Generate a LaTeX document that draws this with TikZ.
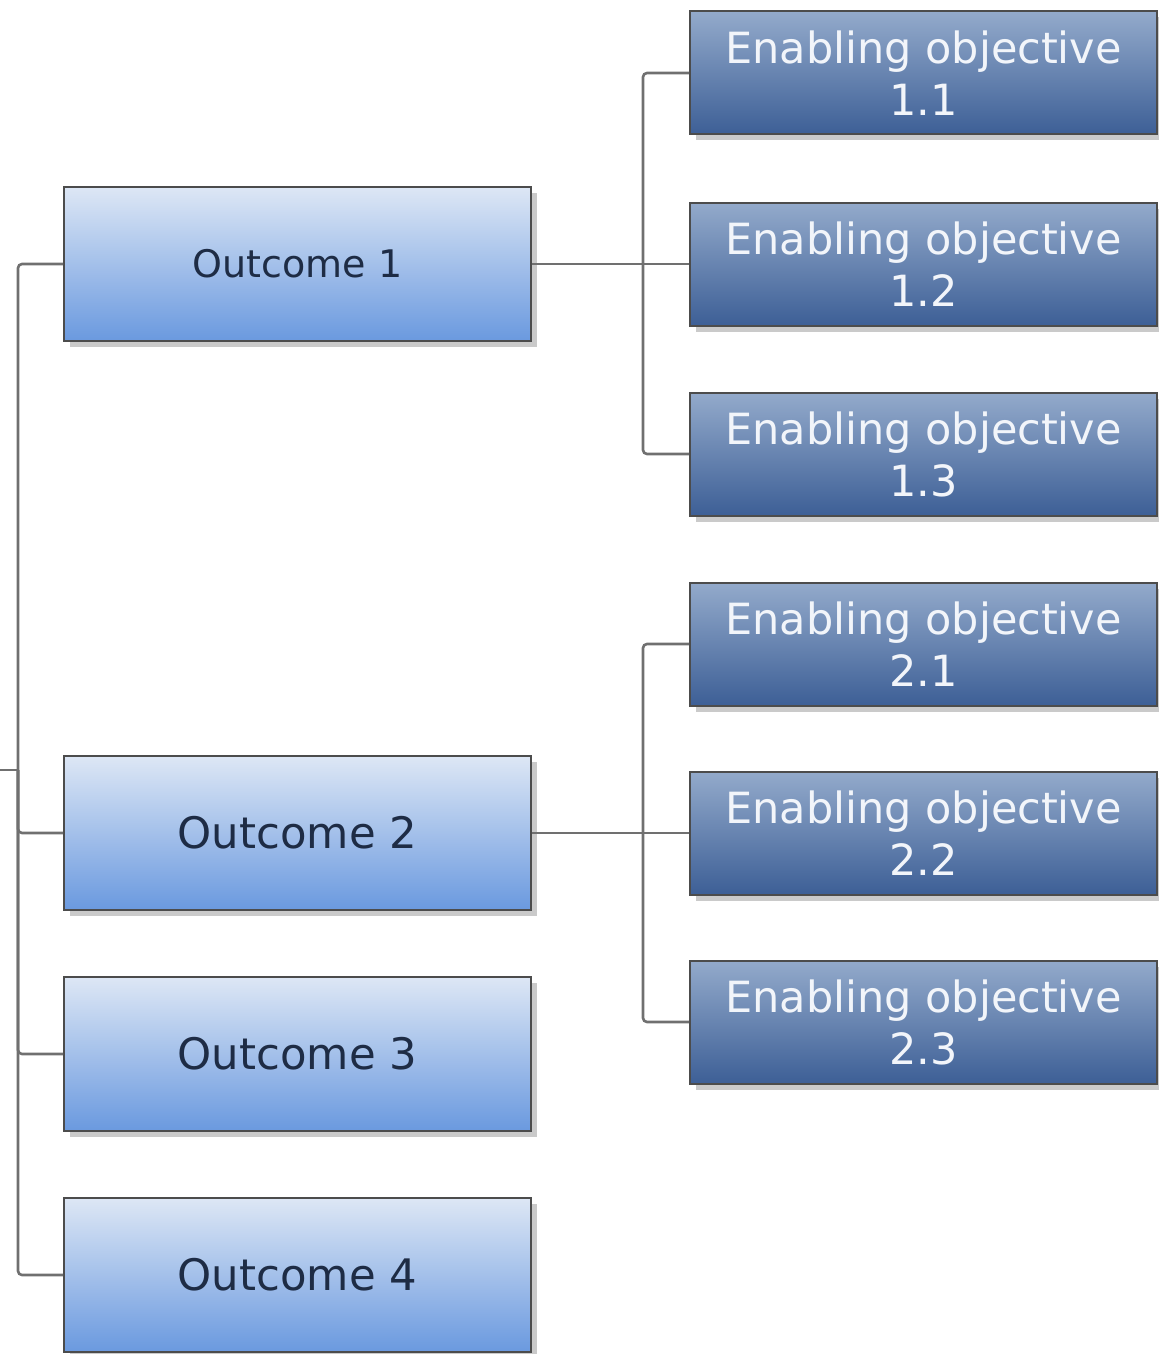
\documentclass[tikz,border=0pt]{standalone}
\usepackage{fontspec}
\setmainfont{DejaVu Sans}
\usetikzlibrary{shadows}
\definecolor{otop}{HTML}{DDE7F5}
\definecolor{obot}{HTML}{6A99DF}
\definecolor{etop}{HTML}{93AACB}
\definecolor{ebot}{HTML}{3D5F96}
\definecolor{otext}{HTML}{1E2C45}
\definecolor{etext}{HTML}{F2F5FA}
\definecolor{lineg}{HTML}{707070}
\begin{document}
\begin{tikzpicture}[x=0.5pt,y=-0.5pt,
  box/.style={draw=black!70, line width=1pt, minimum width=233.5pt, inner sep=0pt,
    drop shadow={shadow xshift=3pt, shadow yshift=-3pt, opacity=0.35, fill=black!60}},
  outbox/.style={box, minimum height=77pt, top color=otop, bottom color=obot,
    text=otext, font=\fontsize{21.7}{24}\selectfont},
  enbox/.style={box, minimum height=61.5pt, top color=etop, bottom color=ebot,
    text=etext, align=center, font=\fontsize{21.5}{26}\selectfont},
  conn/.style={draw=lineg, line width=1.3pt, rounded corners=2pt}
]
\useasboundingbox (0,0) rectangle (1159,1354);
\node[outbox, font=\fontsize{19}{22}\selectfont] (o1) at (297.5,264) {Outcome 1};
\node[outbox] (o2) at (297.5,833) {Outcome 2};
\node[outbox] (o3) at (297.5,1054) {Outcome 3};
\node[outbox] (o4) at (297.5,1275) {Outcome 4};
\node[enbox] (e11) at (923.5,73) {Enabling objective\\1.1};
\node[enbox] (e12) at (923.5,264) {Enabling objective\\1.2};
\node[enbox] (e13) at (923.5,454) {Enabling objective\\1.3};
\node[enbox] (e21) at (923.5,644) {Enabling objective\\2.1};
\node[enbox] (e22) at (923.5,833) {Enabling objective\\2.2};
\node[enbox] (e23) at (923.5,1022) {Enabling objective\\2.3};
\coordinate (root) at (0,770);
\coordinate (tl) at (18,770);
\draw[conn] (root) -- (tl);
\draw[conn] (o1.west) -| (tl) |- (o4.west);
\draw[conn] (tl) |- (o2.west);
\draw[conn] (tl) |- (o3.west);
\draw[conn] (o1.east) -- (e12.west);
\draw[conn] (e11.west) -| (643,264) |- (e13.west);
\draw[conn] (o2.east) -- (e22.west);
\draw[conn] (e21.west) -| (643,833) |- (e23.west);
\end{tikzpicture}
\end{document}
